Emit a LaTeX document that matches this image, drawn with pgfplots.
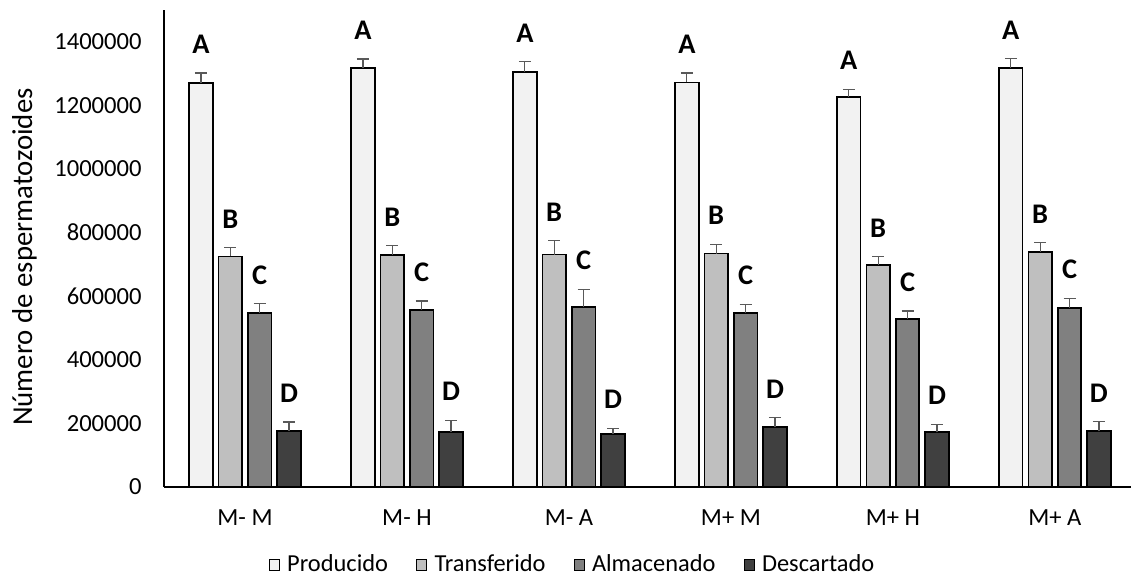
\documentclass[border=0pt]{standalone}
\usepackage{pgfplots}
\pgfplotsset{compat=1.18}
\usepackage{pgfplotstable}
\usepackage{fontspec}
\setmainfont{Carlito}

\definecolor{cP}{HTML}{F2F2F2}
\definecolor{cT}{HTML}{BFBFBF}
\definecolor{cA}{HTML}{808080}
\definecolor{cD}{HTML}{404040}
\definecolor{cErr}{HTML}{595959}

\pgfplotstableread{
x y err
0 1270000 32000
1 1317000 29000
2 1305000 33000
3 1272000 30000
4 1227000 24000
5 1318000 29000
}\tabP
\pgfplotstableread{
x y err
0 725000 27000
1 729000 30000
2 731000 44000
3 734000 29500
4 699000 25000
5 739000 29000
}\tabT
\pgfplotstableread{
x y err
0 548000 28500
1 557000 28000
2 566000 56000
3 547000 27500
4 528500 25000
5 564000 28500
}\tabA
\pgfplotstableread{
x y err
0 177000 27500
1 172000 38000
2 166000 19000
3 188000 30000
4 172000 25000
5 175000 30000
}\tabD

\pgfplotsset{
  errstyle/.style={error bars/.cd, y dir=plus, y explicit,
    error bar style={line width=0.6pt, cErr},
    error mark options={rotate=90, mark size=3pt, line width=0.6pt, cErr}},
  letter/.style={forget plot, draw=none, fill=none,
    nodes near coords={\textbf{#1}},
    every node near coord/.append style={anchor=south, inner sep=0pt, yshift=9.5pt, font=\fontsize{14.2}{16}\selectfont, text=black}},
}

\begin{document}
\begin{tikzpicture}
\begin{axis}[
  name=ax,
  scale only axis, width=483.5pt, height=238.5pt,
  xmin=-0.5, xmax=5.47, ymin=0, ymax=1500000,
  axis x line*=bottom, axis y line*=left,
  axis line style={line width=1pt, black, -},
  xtick={0,...,5},
  xticklabels={M- M, M- H, M- A, M+ M, M+ H, M+ A},
  ytick={0,200000,...,1400000},
  scaled y ticks=false,
  /pgf/number format/fixed,
  /pgf/number format/1000 sep={},
  /pgf/number format/assume math mode=true,
  major tick length=0pt,
  tick label style={font=\fontsize{12.3}{14}\selectfont},
  yticklabel style={inner sep=0pt, xshift=-11pt},
  xticklabel style={inner sep=0pt, yshift=-11pt},
  ylabel={Número de espermatozoides},
  ylabel style={at={(axis description cs:-0.1443,0.482)}, anchor=center, font=\fontsize{14.4}{16}\selectfont},
  ybar, bar width=0.145,
  legend columns=4,
  legend style={at={(0.4235,-0.1635)}, anchor=center, draw=none, fill=none,
    font=\fontsize{12.2}{14}\selectfont,
    /tikz/every even column/.append style={column sep=12pt}},
  legend image code/.code={\draw[#1, line width=0.5pt, draw=black] (0pt,-2.6pt) rectangle (5.2pt,2.6pt);
    \path[draw=none, fill=none] (0pt,0pt) -- (7pt,0pt);},
]
\addplot[fill=cP, draw=black, line width=0.9pt, bar shift=-0.272, errstyle] table[x=x, y=y, y error=err] {\tabP};
\addlegendentry{Producido}
\addplot[fill=cT, draw=black, line width=0.9pt, bar shift=-0.091, errstyle] table[x=x, y=y, y error=err] {\tabT};
\addlegendentry{Transferido}
\addplot[fill=cA, draw=black, line width=0.9pt, bar shift=0.091, errstyle] table[x=x, y=y, y error=err] {\tabA};
\addlegendentry{Almacenado}
\addplot[fill=cD, draw=black, line width=0.9pt, bar shift=0.272, errstyle] table[x=x, y=y, y error=err] {\tabD};
\addlegendentry{Descartado}

\addplot[letter=A, bar shift=-0.272] table[x=x, y expr=\thisrow{y}+\thisrow{err}] {\tabP};
\addplot[letter=B, bar shift=-0.091] table[x=x, y expr=\thisrow{y}+\thisrow{err}] {\tabT};
\addplot[letter=C, bar shift=0.091] table[x=x, y expr=\thisrow{y}+\thisrow{err}] {\tabA};
\addplot[letter=D, bar shift=0.272] table[x=x, y expr=\thisrow{y}+\thisrow{err}] {\tabD};
\end{axis}
\pgfresetboundingbox
\path ([shift={(-82pt,-45.5pt)}]ax.south west) rectangle ([shift={(0pt,5pt)}]ax.north east);
\end{tikzpicture}
\end{document}
